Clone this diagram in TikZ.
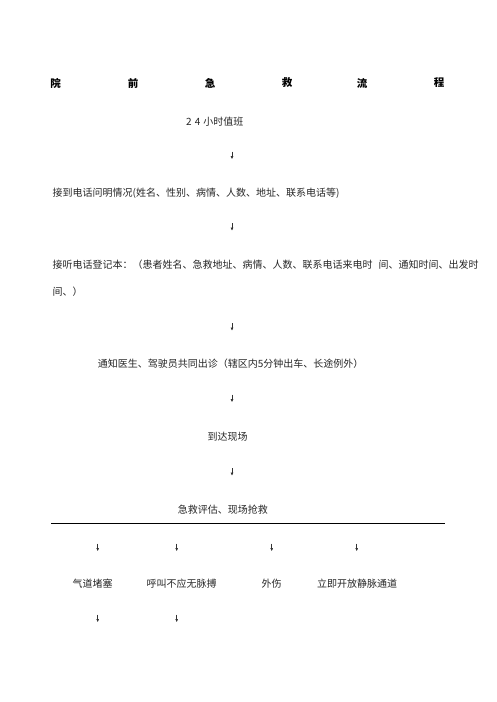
\documentclass[tikz,border=0pt]{standalone}
\usepackage{fontspec}
\newfontfamily\cjk{Noto Sans CJK SC}
\usepackage{tikz}
\usetikzlibrary{arrows.meta}

\tikzset{
    txt/.style={inner sep=0pt, anchor=west, font=\cjk\fontsize{10}{12}\selectfont, text=black!85},
    ttl/.style={inner sep=0pt, font=\cjk\bfseries\fontsize{10.5}{12}\selectfont},
    darr/.style={line width=0.55pt, black!80, -{Triangle[length=2.8pt, width=2.4pt]}}
}

\begin{document}
\begin{tikzpicture}[x=1pt, y=-1pt]
    \useasboundingbox (0,0) rectangle (496,702);
    % title
    \foreach \c/\x [count=\i] in {院/55.5, 前/133, 急/210, 救/287, 流/362, 程/439}
        \node[ttl] (ttl\i) at (\x,83) {\c};
    % main column
    \node[txt] (duty) at (186,121.5) {2\hspace{3pt}4\hspace{3pt}小时值班};
    \node[txt] (call) at (52.5,193.3) {接到电话问明情况(姓名、性别、病情、人数、地址、联系电话等)};
    \node[txt] (reg) at (52.5,265) {接听电话登记本：（患者姓名、急救地址、病情、人数、联系电话来电时\hspace{6pt}间、通知时间、出发时};
    \node[txt] (reg2) at (52.5,291.7) {间、）};
    \node[txt] (notify) at (97.7,364) {通知医生、驾驶员共同出诊（辖区内5分钟出车、长途例外）};
    \node[txt] (arrive) at (207.3,436.7) {到达现场};
    \node[txt] (assess) at (177.7,510) {急救评估、现场抢救};
    \coordinate (ruleL) at (51,523.3);
    \coordinate (ruleR) at (445,523.3);
    \draw[line width=0.8pt] (ruleL) -- (ruleR);
    % branches
    \node[txt, anchor=center] (airway) at (92.5,583.3) {气道堵塞};
    \node[txt, anchor=center] (pulse) at (181.7,583.3) {呼叫不应无脉搏};
    \node[txt, anchor=center] (trauma) at (271.5,583.3) {外伤};
    \node[txt, anchor=center] (iv) at (357,583.3) {立即开放静脉通道};
    % arrows
    \foreach \n/\x/\y in {1/232/151.5, 2/232/223, 3/232/323, 4/232/394.5, 5/232/468,
                          6/97.7/543.5, 7/176.7/543.5, 8/271.7/543.5, 9/356.7/543.5,
                          10/97.7/614.5, 11/176.7/614.5} {
        \coordinate (t\n) at (\x,\y);
        \coordinate (b\n) at (\x,\y+7.5);
        \draw[darr] (t\n) -- (b\n);
    }
\end{tikzpicture}
\end{document}
